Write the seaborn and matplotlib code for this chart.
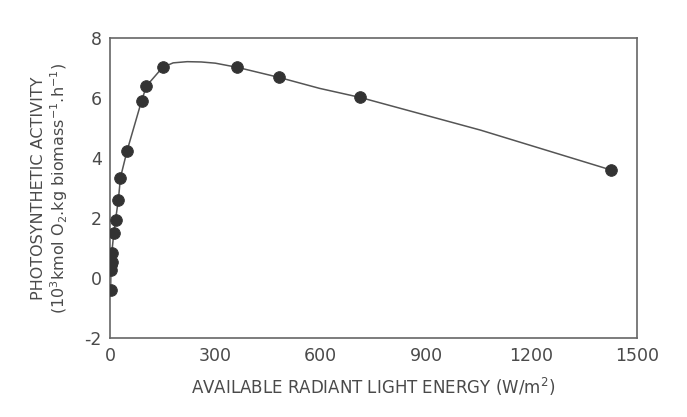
import matplotlib
matplotlib.use("Agg")
import matplotlib.pyplot as plt
import seaborn as sns
import pandas as pd
from matplotlib.ticker import MultipleLocator

light = [2, 3, 4, 6, 5, 11, 16, 24, 30, 49, 90, 104, 150, 363, 480, 712, 1427]
activity = [-0.4, 0.27, 0.43, 0.53, 0.83, 1.5, 1.95, 2.6, 3.35, 4.25, 5.9, 6.4, 7.02, 7.02, 6.69, 6.02, 3.6]

# drawn fitted curve
curve_x = [2, 3, 5, 11, 16, 24, 30, 49, 90, 104, 150, 180, 220, 260, 300, 363, 480, 597, 712, 1055, 1427]
curve_y = [-0.4, 0.3, 0.8, 1.5, 1.95, 2.6, 3.35, 4.25, 5.9, 6.4, 7.02, 7.17, 7.21, 7.2, 7.16, 7.02, 6.69, 6.32, 6.02, 4.93, 3.6]

x_ticks = [0, 300, 600, 900, 1200, 1500]
y_ticks = [-2, 0, 2, 4, 6, 8]

pts = pd.DataFrame({"x": light, "y": activity})
crv = pd.DataFrame({"x": curve_x, "y": curve_y})

sns.set_theme(style="white")
plt.rcParams['font.family'] = ['DejaVu Sans']
plt.rcParams['axes.unicode_minus'] = False
txt = "#4a4a4a"

fig = plt.figure(figsize=(6.87, 4.17), dpi=100)
ax = fig.add_axes([0.160, 0.189, 0.767, 0.720])

sns.lineplot(data=crv, x="x", y="y", ax=ax, color="#555555", linewidth=1.1, sort=False)
sns.scatterplot(data=pts, x="x", y="y", ax=ax, color="#333333", s=70, edgecolor="#333333", zorder=3)

ax.set_xlim(0, 1500)
ax.set_ylim(-2, 8)
ax.set_xticks(x_ticks)
ax.set_yticks(y_ticks)
ax.xaxis.set_minor_locator(MultipleLocator(150))
ax.yaxis.set_minor_locator(MultipleLocator(1))
ax.tick_params(which="both", direction="in", colors="#666666", labelcolor=txt, labelsize=12.5)
ax.tick_params(which="major", length=4, width=0.8)
ax.tick_params(which="minor", length=3, width=0.8)
ax.tick_params(axis="x", pad=6)
ax.tick_params(axis="y", pad=6)
for s in ax.spines.values():
    s.set_color("#666666")
    s.set_linewidth(1.2)

ax.set_xlabel("AVAILABLE RADIANT LIGHT ENERGY (W/m$^2$)", fontsize=12, color=txt, labelpad=8)
ax.set_ylabel("PHOTOSYNTHETIC ACTIVITY\n(10$^3$kmol O$_2$.kg biomass$^{-1}$.h$^{-1}$)",
              fontsize=11.5, color=txt, labelpad=10, linespacing=1.15)

fig.savefig("out.png", dpi=100, facecolor="white")
